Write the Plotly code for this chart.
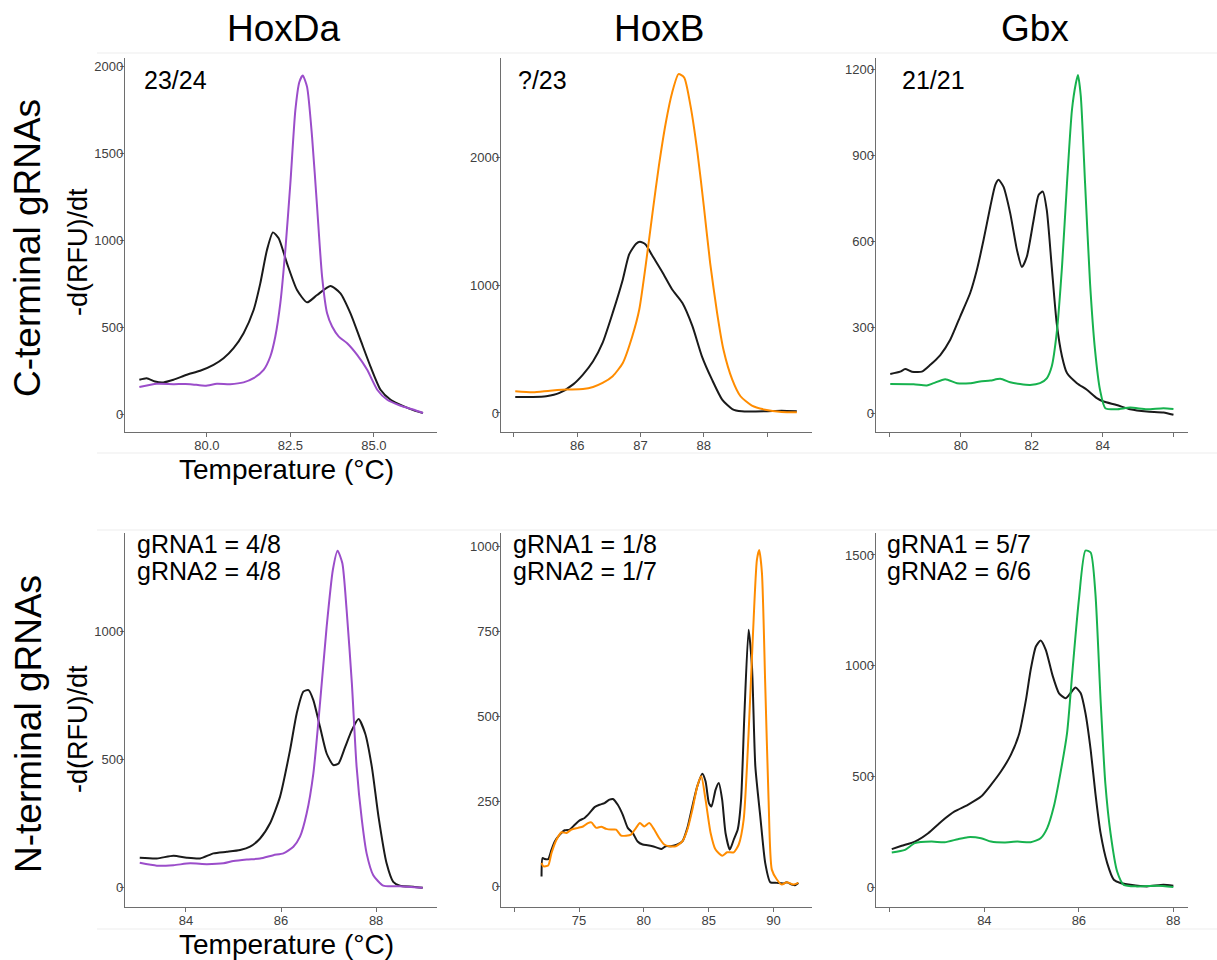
import plotly.graph_objects as go

# ---------------- data ----------------
# Panel 1: HoxDa, C-terminal
hoxda_c_black_t = [77.98, 78.2, 78.45, 78.7, 79.0, 79.4, 79.8, 80.2, 80.5, 80.8, 81.1, 81.4, 81.6, 81.8, 81.98,
                   82.15, 82.4, 82.7, 83.0, 83.3, 83.7, 84.0, 84.3, 84.6, 84.9, 85.2, 85.5, 85.9, 86.2, 86.47]
hoxda_c_black_v = [197, 206, 187, 182, 197, 226, 249, 283, 321, 379, 465, 598, 751, 943, 1044,
                   1010, 866, 713, 642, 684, 736, 694, 579, 426, 273, 140, 82, 44, 21, 6]
hoxda_c_wt_t = [77.98, 78.5, 79.0, 79.5, 79.95, 80.3, 80.7, 81.1, 81.4, 81.7, 81.9, 82.05, 82.2, 82.35, 82.5,
                82.65, 82.77, 82.87, 83.0, 83.15, 83.3, 83.45, 83.6, 83.75, 83.95, 84.2, 84.5, 84.8, 85.1, 85.4,
                85.8, 86.2, 86.47]
hoxda_c_wt_v = [155, 174, 172, 172, 163, 174, 172, 182, 206, 254, 331, 446, 637, 943, 1325,
                1746, 1908, 1946, 1880, 1593, 1191, 790, 579, 503, 445, 407, 340, 254, 140, 82,
                48, 25, 6]

# Panel 2: HoxB, C-terminal
hoxb_c_black_t = [85.02, 85.3, 85.51, 85.72, 85.93, 86.09, 86.25, 86.4, 86.56, 86.72, 86.82, 86.93, 86.99, 87.08,
                  87.19, 87.35, 87.5, 87.66, 87.82, 87.97, 88.13, 88.29, 88.45, 88.6, 88.97, 89.23, 89.47]
hoxb_c_black_v = [125, 125, 131, 157, 222, 301, 405, 549, 784, 1046, 1242, 1325, 1341, 1320,
                  1229, 1098, 967, 863, 680, 444, 261, 105, 31, 13, 13, 18, 13]
hoxb_c_wt_t = [85.02, 85.3, 85.57, 85.83, 86.09, 86.25, 86.4, 86.56, 86.72, 86.87, 86.98, 87.08, 87.19, 87.29,
               87.4, 87.5, 87.6, 87.69, 87.79, 87.9, 88.0, 88.1, 88.21, 88.31, 88.45, 88.58, 88.76, 88.97,
               89.23, 89.47]
hoxb_c_wt_v = [170, 162, 175, 183, 188, 204, 235, 288, 392, 601, 810, 1150, 1569, 1935,
               2275, 2510, 2654, 2627, 2405, 2039, 1621, 1176, 784, 497, 261, 131, 58, 26,
               8, 5]

# Panel 3: Gbx, C-terminal
gbx_c_black_t = [78.01, 78.29, 78.43, 78.62, 78.9, 79.14, 79.42, 79.7, 79.98, 80.26, 80.45, 80.64, 80.83, 80.97,
                 81.06, 81.2, 81.39, 81.58, 81.72, 81.86, 82.05, 82.19, 82.31, 82.42, 82.56, 82.7, 82.85, 82.99,
                 83.27, 83.55, 83.83, 84.02, 84.39, 84.77, 85.24, 85.71, 85.99]
gbx_c_black_v = [139, 147, 156, 147, 147, 171, 205, 258, 339, 420, 501, 606, 722, 797,
                 815, 791, 699, 571, 511, 548, 675, 762, 774, 710, 513, 316, 200, 142,
                 107, 84, 55, 43, 31, 16, 8, 5, -3]
gbx_c_wt_t = [78.01, 78.67, 79.04, 79.23, 79.56, 79.89, 80.26, 80.54, 80.83, 81.11, 81.39, 81.67, 81.95, 82.23,
              82.42, 82.56, 82.7, 82.85, 82.99, 83.13, 83.24, 83.3, 83.38, 83.5, 83.64, 83.78, 83.92, 84.07,
              84.39, 84.77, 85.24, 85.71, 85.99]
gbx_c_wt_v = [104, 103, 99, 107, 121, 107, 107, 113, 116, 122, 110, 104, 101, 107,
              124, 165, 281, 513, 803, 1058, 1151, 1180, 1105, 803, 455, 223, 84, 20,
              16, 22, 16, 20, 17]

# Panel 4: HoxDa, N-terminal
hoxda_n_black_t = [83.03, 83.39, 83.74, 84.02, 84.3, 84.58, 84.86, 85.14, 85.35, 85.56, 85.77, 85.98, 86.19, 86.33,
                   86.47, 86.58, 86.68, 86.82, 86.96, 87.1, 87.21, 87.35, 87.49, 87.63, 87.77, 87.91, 88.05,
                   88.22, 88.36, 88.5, 88.78, 88.98]
hoxda_n_black_v = [117, 114, 125, 117, 114, 134, 140, 147, 160, 192, 251, 355, 536, 679,
                   764, 770, 731, 627, 523, 478, 484, 549, 614, 657, 601, 471, 277,
                   95, 23, 8, 4, 0]
hoxda_n_wt_t = [83.03, 83.39, 83.74, 84.09, 84.44, 84.79, 85.0, 85.28, 85.56, 85.84, 86.05, 86.26, 86.4, 86.54,
                86.68, 86.82, 86.96, 87.09, 87.19, 87.29, 87.38, 87.49, 87.59, 87.7, 87.8, 87.94, 88.15,
                88.5, 88.98]
hoxda_n_wt_v = [97, 86, 88, 95, 92, 95, 104, 110, 114, 127, 134, 160, 199, 290,
                445, 718, 1017, 1238, 1313, 1264, 1082, 796, 471, 264, 134, 49, 8,
                6, 0]

# Panel 5: HoxB, N-terminal
hoxb_n_black_t = [72.11, 72.19, 72.37, 72.62, 72.88, 73.13, 73.52, 73.9, 74.28, 74.67, 75.05, 75.43, 75.82, 76.2,
                  76.58, 76.97, 77.35, 77.61, 77.99, 78.37, 78.76, 79.14, 79.52, 79.91, 80.29, 80.67, 81.06,
                  81.36, 81.7, 82.08, 82.59, 82.97, 83.36, 83.74, 84.12, 84.51, 84.76, 85.02, 85.22, 85.53,
                  85.78, 86.04, 86.3, 86.63, 86.93, 87.24, 87.5, 87.75, 88.08, 88.34, 88.6, 88.98, 89.36,
                  89.75, 90.26, 90.77, 91.02, 91.41, 91.66, 91.92]
hoxb_n_black_v = [29, 83, 80, 80, 108, 132, 152, 165, 167, 181, 194, 201, 216, 233,
                  240, 245, 255, 257, 240, 211, 172, 157, 132, 123, 121, 118, 113,
                  110, 118, 118, 123, 132, 172, 235, 294, 331, 309, 245, 235, 284,
                  304, 255, 157, 108, 137, 167, 255, 500, 755, 647, 353, 206, 69,
                  12, 10, 8, 12, 5, 3, 10]
hoxb_n_wt_t = [72.11, 72.24, 72.62, 72.88, 73.26, 73.65, 74.03, 74.41, 74.92, 75.31, 75.69, 75.95, 76.33, 76.71,
               77.1, 77.48, 77.86, 78.25, 78.63, 79.01, 79.4, 79.7, 80.03, 80.42, 80.8, 81.18, 81.57,
               81.95, 82.46, 82.97, 83.36, 83.74, 84.12, 84.43, 84.76, 85.15, 85.53, 86.04, 86.42, 86.93,
               87.32, 87.7, 88.08, 88.42, 88.72, 88.9, 89.11, 89.36, 89.62, 89.87, 90.26, 90.64, 91.02,
               91.53, 91.92]
hoxb_n_wt_v = [69, 59, 61, 98, 137, 159, 157, 167, 172, 176, 186, 188, 172, 175,
               169, 167, 167, 149, 149, 152, 172, 186, 176, 186, 167, 142, 123,
               118, 118, 132, 167, 225, 294, 324, 255, 157, 108, 90, 100, 100,
               123, 196, 451, 745, 961, 990, 922, 598, 255, 49, 20, 5, 12,
               5, 10]

# Panel 6: Gbx, N-terminal
gbx_n_black_t = [82.04, 82.25, 82.53, 82.81, 83.09, 83.37, 83.65, 83.93, 84.14, 84.35, 84.56, 84.74, 84.88, 84.98,
                 85.09, 85.19, 85.3, 85.44, 85.58, 85.72, 85.82, 85.93, 86.04, 86.14, 86.25, 86.35, 86.46,
                 86.6, 86.74, 86.88, 87.09, 87.44, 87.79, 88.0]
gbx_n_black_v = [173, 188, 207, 245, 298, 343, 373, 410, 463, 523, 598, 696, 846, 982,
                 1087, 1114, 1072, 959, 876, 854, 876, 902, 876, 786, 621, 425, 245,
                 110, 35, 20, 12, 5, 12, 8]
gbx_n_wt_t = [82.04, 82.32, 82.53, 82.88, 83.16, 83.44, 83.65, 83.93, 84.14, 84.42, 84.7, 84.98, 85.19, 85.33,
              85.47, 85.61, 85.75, 85.86, 86.0, 86.14, 86.25, 86.35, 86.46, 86.56, 86.67, 86.81, 86.95,
              87.23, 87.65, 88.0]
gbx_n_wt_v = [158, 170, 200, 207, 204, 218, 227, 222, 207, 203, 207, 204, 222, 268,
              365, 516, 696, 966, 1297, 1520, 1511, 1327, 846, 470, 245, 72, 12,
              5, 8, 2]

gene_titles = ["HoxDa", "HoxB", "Gbx"]
row_titles = ["C-terminal gRNAs", "N-terminal gRNAs"]
# each panel label as a list of lines
panel_labels = [["23/24"], ["?/23"], ["21/21"],
                ["gRNA1 = 4/8", "gRNA2 = 4/8"], ["gRNA1 = 1/8", "gRNA2 = 1/7"], ["gRNA1 = 5/7", "gRNA2 = 6/6"]]

x_tickvals = [[80, 82.5, 85], [85, 86, 87, 88, 89], [78, 80, 82, 84, 86],
              [84, 86, 88], [70, 75, 80, 85, 90], [82, 84, 86, 88]]
x_ticktext = [["80.0", "82.5", "85.0"], ["", "86", "87", "88", ""], ["", "80", "82", "84", ""],
              ["84", "86", "88"], ["", "75", "80", "85", "90"], ["", "84", "86", "88"]]
y_tickvals = [[0, 500, 1000, 1500, 2000], [0, 1000, 2000], [0, 300, 600, 900, 1200],
              [0, 500, 1000], [0, 250, 500, 750, 1000], [0, 500, 1000, 1500]]

# ---------------- style / layout ----------------
W, H = 1217, 960
BLACK = "#1a1a1a"
PURPLE = "#9b4dca"
ORANGE = "#ff8c00"
GREEN = "#17b24e"
mut_colors = [PURPLE, ORANGE, GREEN]

panels = [
    (hoxda_c_black_t, hoxda_c_black_v, hoxda_c_wt_t, hoxda_c_wt_v),
    (hoxb_c_black_t, hoxb_c_black_v, hoxb_c_wt_t, hoxb_c_wt_v),
    (gbx_c_black_t, gbx_c_black_v, gbx_c_wt_t, gbx_c_wt_v),
    (hoxda_n_black_t, hoxda_n_black_v, hoxda_n_wt_t, hoxda_n_wt_v),
    (hoxb_n_black_t, hoxb_n_black_v, hoxb_n_wt_t, hoxb_n_wt_v),
    (gbx_n_black_t, gbx_n_black_v, gbx_n_wt_t, gbx_n_wt_v),
]

# plot-area pixel boxes
col_px = [(125, 437), (500.7, 812), (875.7, 1188)]
row_px = [(58, 432), (533, 907)]
x_ranges = [[77.55, 86.89], [84.79, 89.71], [77.6, 86.4], [82.72, 89.28], [68.96, 92.97], [81.7, 88.31]]
y_ranges = [[-103, 2046], [-149, 2780], [-63, 1239], [-75, 1382], [-61, 1040], [-88, 1599]]


def px(x):
    return x / W


def py(y):
    return 1 - y / H


fig = go.Figure()
layout = dict(width=W, height=H, margin=dict(l=0, r=0, t=0, b=0),
              paper_bgcolor="white", plot_bgcolor="white", showlegend=False,
              font=dict(family="Liberation Sans, Arial, sans-serif", color="#000000"))

for i, (bt, bv, wt, wv) in enumerate(panels):
    r, c = divmod(i, 3)
    xa = "x" if i == 0 else f"x{i+1}"
    ya = "y" if i == 0 else f"y{i+1}"
    fig.add_trace(go.Scatter(x=bt, y=bv, mode="lines",
                             line=dict(color=BLACK, width=2, shape="spline", smoothing=0.6),
                             xaxis=xa, yaxis=ya, hoverinfo="skip"))
    fig.add_trace(go.Scatter(x=wt, y=wv, mode="lines",
                             line=dict(color=mut_colors[c], width=2, shape="spline", smoothing=0.6),
                             xaxis=xa, yaxis=ya, hoverinfo="skip"))
    axis_common = dict(showgrid=False, zeroline=False, showline=True, linecolor="#6e6e6e", linewidth=1.3,
                       ticks="outside", ticklen=4, tickwidth=1, tickcolor="#6e6e6e",
                       tickfont=dict(size=13, color="#404040"), fixedrange=True)
    xl, xr = col_px[c]
    yt, yb = row_px[r]
    layout["xaxis" if i == 0 else f"xaxis{i+1}"] = dict(
        axis_common, domain=[px(xl), px(xr)], range=x_ranges[i], anchor=ya,
        tickmode="array", tickvals=x_tickvals[i], ticktext=x_ticktext[i], ticklabelstandoff=-3)
    layout["yaxis" if i == 0 else f"yaxis{i+1}"] = dict(
        axis_common, domain=[py(yb), py(yt)], range=y_ranges[i], anchor=xa,
        tickmode="array", tickvals=y_tickvals[i], ticklabelstandoff=-6)

fig.update_layout(**layout)

ann = []
# column titles
for c, name in enumerate(gene_titles):
    xl, xr = col_px[c]
    ann.append(dict(text=name, x=px((xl + xr) / 2 + 3), y=py(28), xref="paper", yref="paper",
                    xanchor="center", yanchor="middle", showarrow=False, font=dict(size=37, color="#000")))
# row titles
row_centers = [248, 724]
for r, name in enumerate(row_titles):
    ann.append(dict(text=name, x=px(28), y=py(row_centers[r]), xref="paper", yref="paper", textangle=-90,
                    xanchor="center", yanchor="middle", showarrow=False, font=dict(size=37, color="#000")))
# y-axis titles
ylab_centers = [252, 729]
for r in range(2):
    ann.append(dict(text="-d(RFU)/dt", x=px(78), y=py(ylab_centers[r]), xref="paper", yref="paper", textangle=-90,
                    xanchor="center", yanchor="middle", showarrow=False, font=dict(size=27, color="#000")))
# x-axis titles (left column)
for yc in [470, 944]:
    ann.append(dict(text="Temperature (°C)", x=px(286), y=py(yc), xref="paper", yref="paper",
                    xanchor="center", yanchor="middle", showarrow=False, font=dict(size=28, color="#000")))
# panel labels
label_pos = [(142, 80), (516, 80), (900, 80), (135, 544), (511, 544), (885, 544)]
for i, lines in enumerate(panel_labels):
    lx, ly = label_pos[i]
    for k, line in enumerate(lines):
        ann.append(dict(text=line, x=px(lx), y=py(ly + 27 * k), xref="paper", yref="paper", align="left",
                        xanchor="left", yanchor="middle", showarrow=False, font=dict(size=25, color="#000")))
fig.update_layout(annotations=ann)

# faint compositing lines
shapes = []
for yl in [53, 453, 530, 929]:
    shapes.append(dict(type="line", xref="paper", yref="paper", x0=px(97), x1=1, y0=py(yl), y1=py(yl),
                       line=dict(color="#ededed", width=1), layer="below"))
fig.update_layout(shapes=shapes)

fig.write_html("out.html")
